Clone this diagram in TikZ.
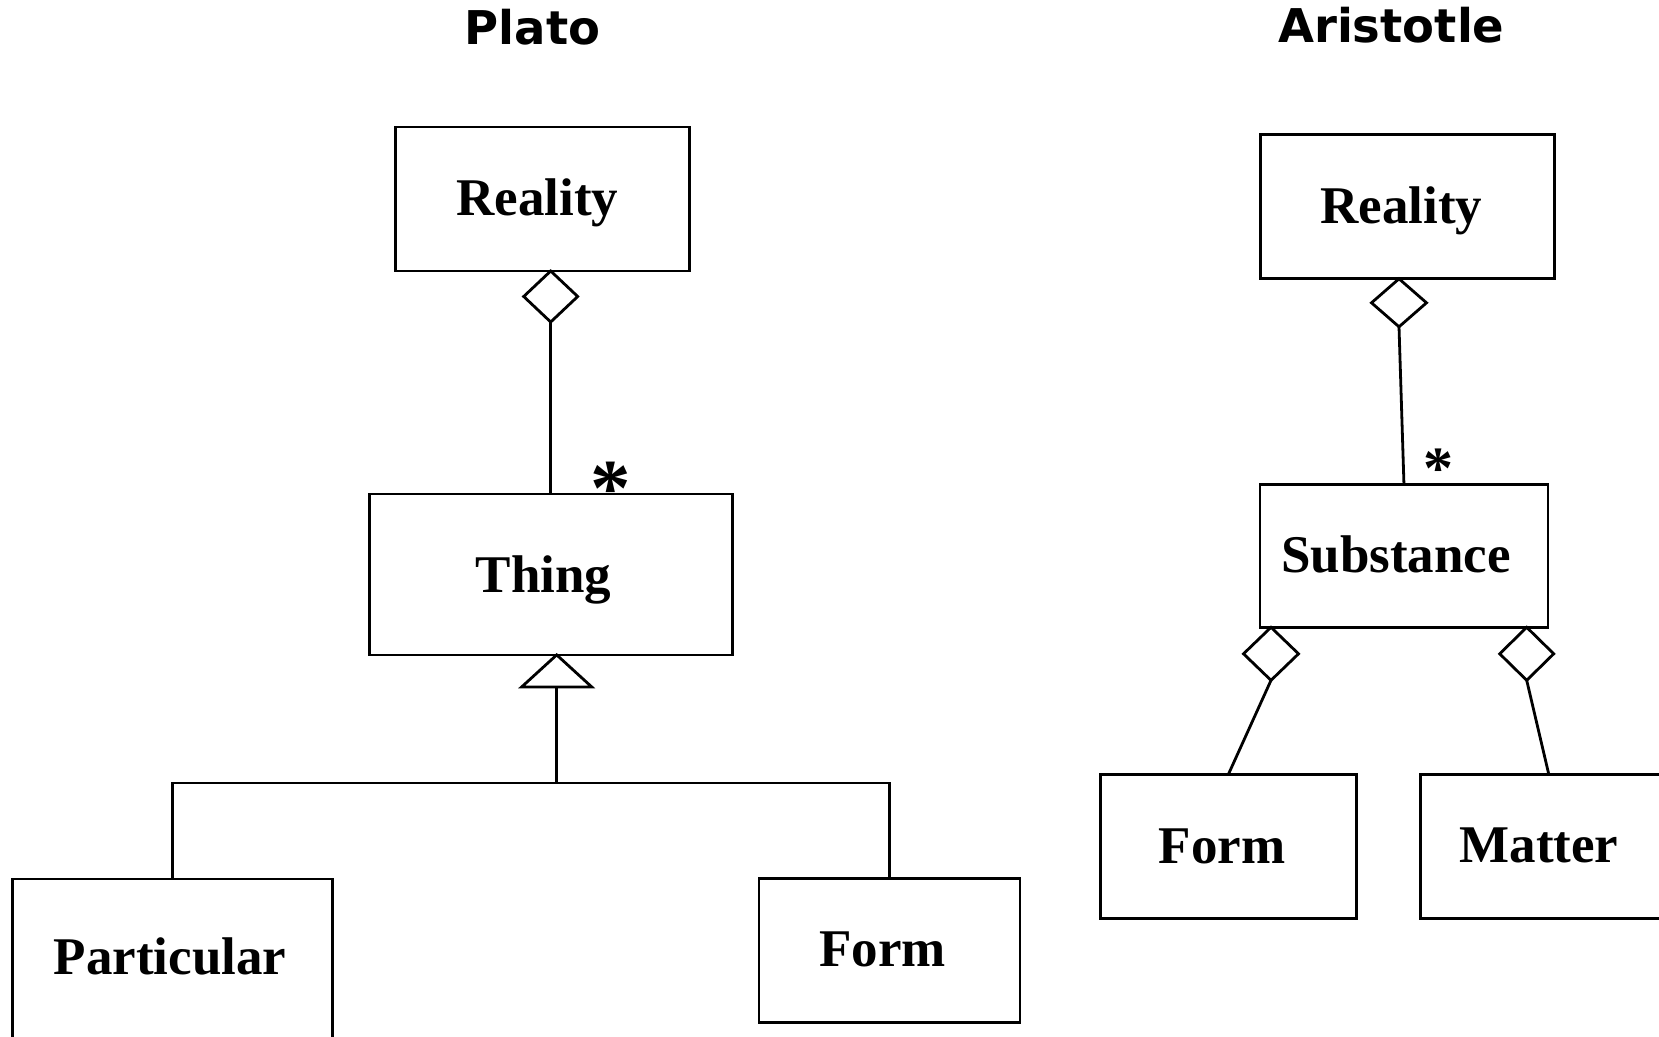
\documentclass[tikz,border=0pt]{standalone}
\usepackage{fontspec}
\setmainfont{Liberation Serif}
\newfontfamily\headfont{DejaVu Sans}
\usetikzlibrary{shapes.geometric}
\begin{document}
\begin{tikzpicture}[x=1pt,y=-1pt,
  box/.style={draw, line width=2.8pt, rectangle, inner sep=0pt, outer sep=0pt},
  lbl/.style={anchor=base, inner sep=0pt, font=\fontsize{53}{60}\selectfont\bfseries},
  head/.style={anchor=base, inner sep=0pt, font=\headfont\fontsize{46.5}{52}\selectfont\bfseries},
  wire/.style={line width=2.8pt},
  agg/.style={diamond, draw, fill=white, line width=2.8pt, inner sep=0pt, outer sep=0pt, anchor=north},
  mult/.style={anchor=base, inner sep=0pt}
]
\useasboundingbox (0,0) rectangle (1659,1036);
\clip (0,0) rectangle (1659,1036);
\fill[white] (0,0) rectangle (1659,1036);

% ---------------- Plato ----------------
\node[head] (platohead) at (532.5,44.3) {Plato};

\node[box, minimum width=294pt, minimum height=144pt] (preality) at (542.75,198.9) {};
\node[box, minimum width=363pt, minimum height=161pt] (thing) at (550.65,574.5) {};
\node[box, minimum width=320pt, minimum height=191pt] (particular) at (172.15,974.5) {};
\node[box, minimum width=261pt, minimum height=144pt] (pform) at (889.5,950.85) {};

\node[lbl] (prealitytxt) at (537.5,215) {Reality};
\node[lbl] (thingtxt) at (543.7,592) {Thing};
\node[lbl] (particulartxt) at (170,974) {Particular};
\node[lbl] (pformtxt) at (882.5,966) {Form};

% aggregation Reality <>-- Thing
\node[agg, minimum width=54pt, minimum height=51pt] (pagg) at (550.7,271) {};
\draw[wire] (pagg.south) -- (pagg.south |- thing.north);
\node[mult, font=\fontsize{81}{90}\selectfont\bfseries] (pstar) at (611,515) {*};

% generalisation Thing <|-- Particular, Form
\coordinate (genapex) at (556.7,654.9);
\draw[wire, fill=white] (genapex) -- ++(35,32) -- ++(-70,0) -- cycle;
\coordinate (genbase) at (556.7,686.9);
\coordinate (bus) at (0,783);
\draw[wire] (genbase) -- (genbase |- bus);
\draw[wire] (particular.north) -- (particular.north |- bus) -- (pform.north |- bus) -- (pform.north);

% ---------------- Aristotle ----------------
\node[head] (arihead) at (1391.3,42.3) {Aristotle};

\node[box, minimum width=294pt, minimum height=144pt] (areality) at (1407.15,206.6) {};
\node[box, minimum width=288pt, minimum height=143pt] (subst) at (1403.95,555.9) {};
\node[box, minimum width=256pt, minimum height=144pt] (aform) at (1228.35,846.4) {};
\node[box, minimum width=256pt, minimum height=144pt] (matter) at (1548.85,846.65) {};

\node[lbl] (arealitytxt) at (1401.5,223) {Reality};
\node[lbl] (substtxt) at (1396,572) {Substance};
\node[lbl] (aformtxt) at (1222,863) {Form};
\node[lbl] (mattertxt) at (1539,862) {Matter};

\node[agg, minimum width=55pt, minimum height=48pt] (aagg) at (1399,278.8) {};
\draw[wire] (aagg.south) -- (subst.north);
\node[mult, font=\fontsize{60}{66}\selectfont\bfseries] (astar) at (1438.4,488) {*};

\node[agg, minimum width=55pt, minimum height=53pt] (lagg) at (1271,627.3) {};
\draw[wire] (lagg.south) -- (aform.north);
\node[agg, minimum width=54pt, minimum height=53pt] (ragg) at (1526.7,627.3) {};
\draw[wire] (ragg.south) -- (matter.north);
\end{tikzpicture}
\end{document}
